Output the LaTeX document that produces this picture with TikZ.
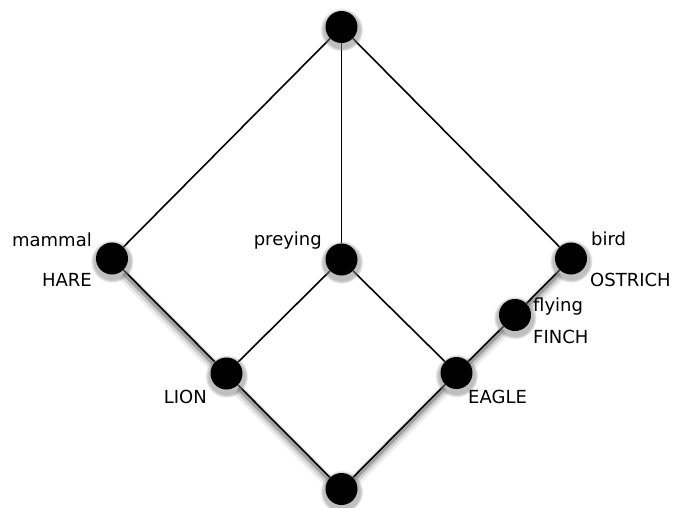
\documentclass[tikz,border=0pt]{standalone}
\usepackage{fontspec}
\setmainfont{DejaVu Sans}
\usetikzlibrary{shadows,backgrounds}

\begin{document}
\begin{tikzpicture}[
  x=1pt, y=-1pt,
  dot/.style={
    circle,
    fill=black,
    minimum size=32pt,
    inner sep=0pt,
    circular drop shadow={shadow xshift=0pt, shadow yshift=-2pt, shadow scale=1.35, opacity=0.5}
  },
  edge/.style={line width=1.6pt},
  shadowed/.style={
    preaction={draw, line width=12pt, black, opacity=0.07, transform canvas={yshift=-5pt}},
    preaction={draw, line width=8pt, black, opacity=0.12, transform canvas={yshift=-4pt}},
    preaction={draw, line width=4pt, black, opacity=0.22, transform canvas={yshift=-3pt}}
  },
  lbl/.style={font=\fontsize{18}{21}\selectfont, inner sep=0pt}
]
\useasboundingbox (0,0) rectangle (674,507);

\node[dot] (top) at (341.5,27) {};
\node[dot] (mammal) at (112,258.5) {};
\node[dot] (preying) at (341.5,259.5) {};
\node[dot] (bird) at (571,258.5) {};
\node[dot] (flying) at (515,315) {};
\node[dot] (lion) at (226.5,373.5) {};
\node[dot] (eagle) at (456.5,373) {};
\node[dot] (bottom) at (341.5,489) {};

\node[lbl, anchor=base east] (mammallbl) at (92,246) {mammal};
\node[lbl, anchor=base east] (harelbl) at (92,286.5) {HARE};
\node[lbl, anchor=base east] (preyinglbl) at (322,245) {preying};
\node[lbl, anchor=base west] (birdlbl) at (591,245) {bird};
\node[lbl, anchor=base west] (ostrichlbl) at (590,286) {OSTRICH};
\node[lbl, anchor=base west] (flyinglbl) at (533,311) {flying};
\node[lbl, anchor=base west] (finchlbl) at (533,343) {FINCH};
\node[lbl, anchor=base east] (lionlbl) at (207,403) {LION};
\node[lbl, anchor=base west] (eaglelbl) at (468,403) {EAGLE};

\begin{scope}[on background layer]
\draw[edge] (top) -- (mammal);
\draw[edge] (top) -- (preying);
\draw[edge] (top) -- (bird);
\draw[edge] (preying) -- (lion);
\draw[edge] (preying) -- (eagle);
\draw[edge, shadowed] (mammal) -- (lion);
\draw[edge, shadowed] (lion) -- (bottom);
\draw[edge, shadowed] (bottom) -- (eagle);
\draw[edge, shadowed] (eagle) -- (flying);
\draw[edge, shadowed] (flying) -- (bird);
\end{scope}
\end{tikzpicture}
\end{document}
